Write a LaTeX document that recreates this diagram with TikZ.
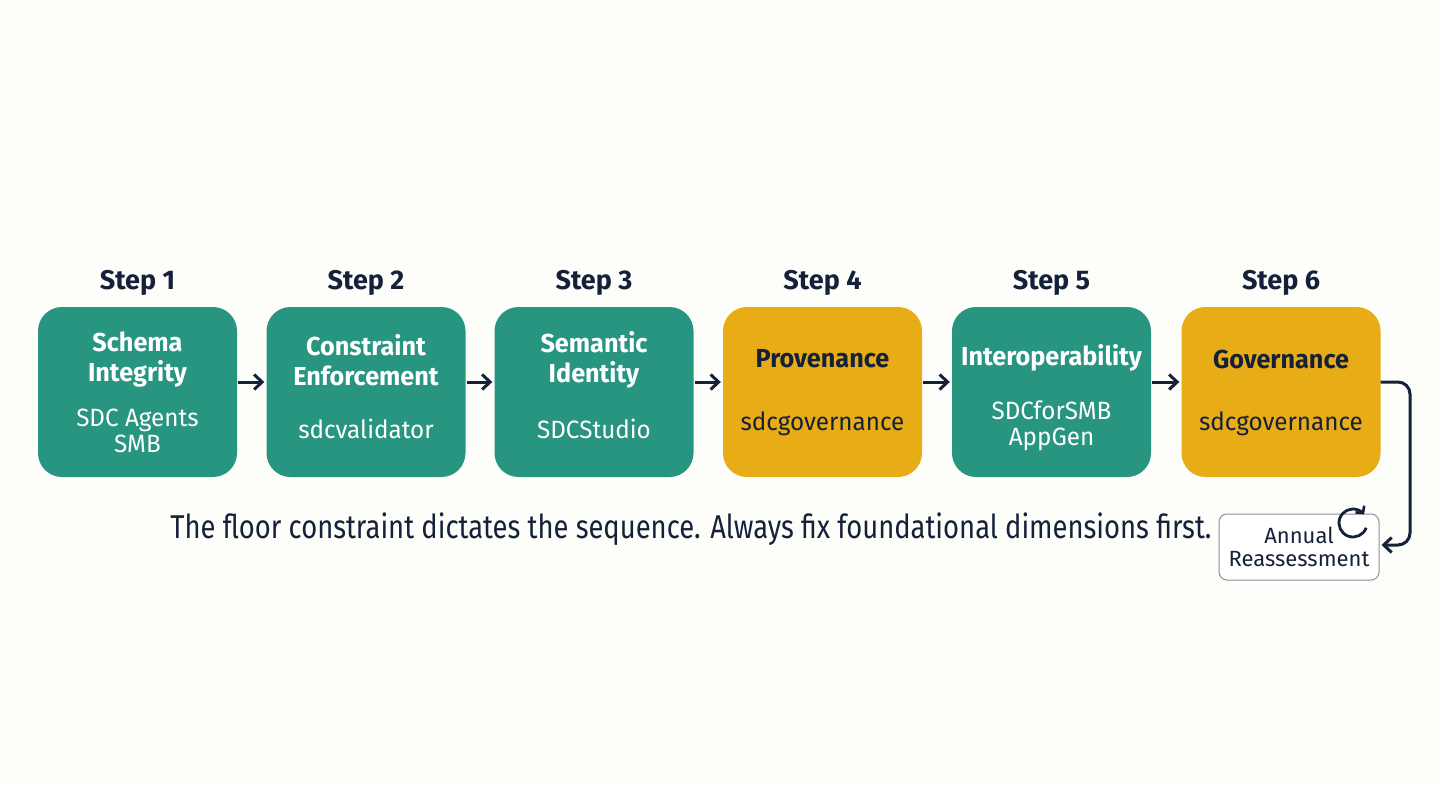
\documentclass[tikz,border=0pt]{standalone}
\usepackage{fontspec}
\setmainfont{Fira Sans}
\newfontfamily\capfont{Fira Sans}[FakeStretch=0.83]
\newfontfamily\boxfont{Fira Sans}[FakeStretch=0.97]
\usetikzlibrary{arrows.meta,calc}
\definecolor{bgcol}{HTML}{FDFDFA}
\definecolor{tealbox}{HTML}{289580}
\definecolor{goldbox}{HTML}{E7AC16}
\definecolor{navy}{HTML}{15213A}
\definecolor{graybrd}{HTML}{8A9099}
\tikzset{
  stepbox/.style={rectangle, rounded corners=24pt, minimum width=199pt, minimum height=170pt, inner sep=0pt, draw=none},
  tealst/.style={stepbox, fill=tealbox},
  goldst/.style={stepbox, fill=goldbox},
  steplbl/.style={font=\fontsize{27}{30}\selectfont\bfseries, text=navy, inner sep=0pt},
  ttl/.style={font=\boxfont\fontsize{26}{30}\selectfont\bfseries, align=center, inner sep=0pt},
  sub/.style={font=\boxfont\fontsize{25}{26}\selectfont, align=center, inner sep=0pt},
  arr/.style={draw=navy, line width=3pt, -{Straight Barb[length=8pt,width=15pt,line width=3pt]}},
  capt/.style={font=\capfont\fontsize{33}{36}\selectfont, text=navy, inner sep=0pt, anchor=base},
  annbox/.style={rectangle, rounded corners=8pt, draw=graybrd, line width=1pt, fill=white, minimum width=160pt, minimum height=66pt, inner sep=0pt},
  anntxt/.style={font=\fontsize{22}{24}\selectfont, text=navy, align=center, inner sep=0pt}
}
\begin{document}
\begin{tikzpicture}[x=1pt,y=-1pt]
\fill[bgcol] (0,0) rectangle (1440,785);
\useasboundingbox (0,0) rectangle (1440,785);

% step labels
\node[steplbl] (s1) at (137.5,283) {Step 1};
\node[steplbl] (s2) at (366,283) {Step 2};
\node[steplbl] (s3) at (594,283) {Step 3};
\node[steplbl] (s4) at (822.5,283) {Step 4};
\node[steplbl] (s5) at (1051.5,283) {Step 5};
\node[steplbl] (s6) at (1281,283) {Step 6};

% boxes
\node[tealst] (b1) at (137.5,392) {};
\node[tealst] (b2) at (366,392) {};
\node[tealst] (b3) at (594,392) {};
\node[goldst] (b4) at (822.5,392) {};
\node[tealst] (b5) at (1051.5,392) {};
\node[goldst] (b6) at (1281,392) {};

% titles
\node[ttl, text=white] (t1) at (137.5,360) {Schema\\Integrity};
\node[ttl, text=white] (t2) at (366,360) {Constraint\\Enforcement};
\node[ttl, text=white] (t3) at (594,360) {Semantic\\Identity};
\node[ttl, text=navy] (t4) at (822.5,359) {Provenance};
\node[ttl, text=white] (t5) at (1051.5,358) {Interoperability};
\node[ttl, text=navy] (t6) at (1281,359) {Governance};

% subtitles
\node[sub, text=white] (u1) at (137.5,431) {SDC Agents\\SMB};
\node[sub, text=white] (u2) at (366,429) {sdcvalidator};
\node[sub, text=white] (u3) at (594,429) {SDCStudio};
\node[sub, text=navy] (u4) at (822.5,424) {sdcgovernance};
\node[sub, text=white] (u5) at (1051.5,426) {SDCforSMB\\AppGen};
\node[sub, text=navy] (u6) at (1281,424) {sdcgovernance};

% arrows
\draw[arr, shorten <=1pt, shorten >=2pt] ([yshift=10pt]b1.east) -- ([yshift=10pt]b2.west);
\draw[arr, shorten <=1pt, shorten >=2pt] ([yshift=10pt]b2.east) -- ([yshift=10pt]b3.west);
\draw[arr, shorten <=1pt, shorten >=2pt] ([yshift=10pt]b3.east) -- ([yshift=10pt]b4.west);
\draw[arr, shorten <=1pt, shorten >=2pt] ([yshift=10pt]b4.east) -- ([yshift=10pt]b5.west);
\draw[arr, shorten <=1pt, shorten >=2pt] ([yshift=10pt]b5.east) -- ([yshift=10pt]b6.west);

% annual box
\node[annbox] (ann) at (1299,547) {};
\node[anntxt] (ann1) at (1299,535) {Annual};
\node[anntxt] (ann2) at (1299,559) {Reassessment};

\coordinate (c1) at (1410,382);
\coordinate (c2) at (1410,545);
\draw[arr, rounded corners=12pt, shorten >=2pt] ([yshift=10pt]b6.east) -- (c1) -- (c2) -- (ann.east |- c2);

% cycle icon
\begin{scope}[shift={(1353,523)}, yscale=-1]
\coordinate (ic) at (0,0);
\draw[navy, line width=2.8pt, -{Straight Barb[length=5pt,width=11pt,line width=2.6pt]}] ([shift={(-20:14)}]ic) arc (-20:-322:14);
\end{scope}

% caption
\node[capt] (cap) at (691,538) {The floor constraint dictates the sequence. Always fix foundational dimensions first.};
\end{tikzpicture}
\end{document}
